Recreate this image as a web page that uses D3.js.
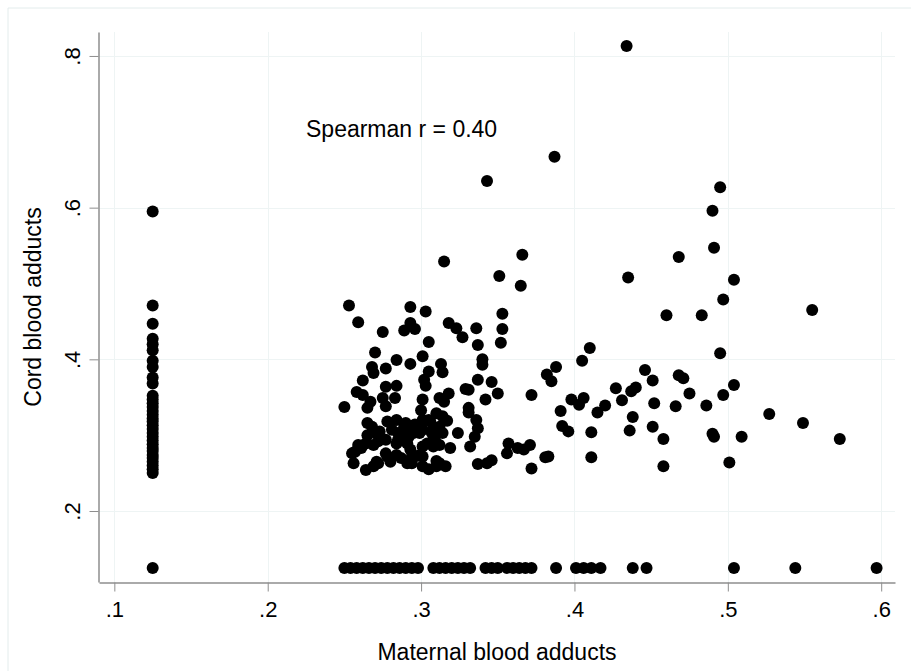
<!DOCTYPE html>
<html><head><meta charset="utf-8">
<script src="https://cdn.jsdelivr.net/npm/d3@7"></script>
<style>body{margin:0;background:#fff} svg{display:block;font-family:"Liberation Sans",Arial,sans-serif}</style>
</head><body><svg id="c" width="911" height="671"></svg>
<script>
const xTicks = [0.1, 0.2, 0.3, 0.4, 0.5, 0.6];
const xTickLabels = [".1", ".2", ".3", ".4", ".5", ".6"];
const yTicks = [0.2, 0.4, 0.6, 0.8];
const yTickLabels = [".2", ".4", ".6", ".8"];
const xTitle = "Maternal blood adducts";
const yTitle = "Cord blood adducts";
const annotation = "Spearman r = 0.40";

// value assigned to samples below detection limit
const lodValue = 0.125;
// maternal below LOD: cord values
const leftColumnCord = [0.595, 0.471, 0.447, 0.427, 0.42, 0.412, 0.398, 0.39, 0.376, 0.368, 0.352, 0.347, 0.342, 0.337, 0.332, 0.327, 0.322, 0.318, 0.313, 0.308, 0.303, 0.298, 0.293, 0.288, 0.283, 0.279, 0.274, 0.27, 0.265, 0.26, 0.255, 0.25, 0.125];
// cord below LOD: maternal values
const bottomRowMaternal = [0.25, 0.254, 0.258, 0.262, 0.266, 0.27, 0.274, 0.278, 0.282, 0.286, 0.29, 0.294, 0.298, 0.308, 0.312, 0.316, 0.32, 0.324, 0.328, 0.332, 0.342, 0.346, 0.35, 0.356, 0.36, 0.364, 0.368, 0.372, 0.388, 0.401, 0.406, 0.411, 0.417, 0.438, 0.447, 0.504, 0.544, 0.597];
// both detected: [maternal, cord]
const detectedPairs = [
[0.434,0.813],[0.387,0.667],[0.343,0.635],[0.495,0.627],[0.490,0.596],[0.366,0.538],[0.468,0.535],[0.491,0.547],[0.315,0.529],[0.351,0.510],[0.435,0.508],[0.504,0.505],[0.365,0.497],[0.497,0.479],[0.253,0.471],[0.293,0.469],[0.303,0.463],[0.353,0.460],[0.460,0.458],[0.483,0.458],[0.259,0.449],[0.555,0.465],[0.410,0.415],[0.495,0.408],
[0.446,0.386],[0.451,0.372],[0.468,0.379],[0.471,0.375],[0.427,0.362],[0.437,0.358],[0.440,0.363],[0.504,0.366],[0.475,0.355],[0.497,0.353],[0.431,0.346],[0.420,0.339],[0.415,0.330],[0.452,0.342],[0.466,0.338],[0.486,0.339],[0.527,0.328],[0.438,0.324],[0.549,0.316],[0.411,0.304],[0.436,0.306],[0.451,0.311],[0.458,0.295],[0.490,0.302],[0.491,0.298],[0.509,0.298],[0.573,0.295],[0.411,0.271],[0.458,0.259],[0.501,0.264],
[0.305,0.423],[0.327,0.429],[0.337,0.419],[0.352,0.422],[0.405,0.398],[0.340,0.400],[0.340,0.393],[0.313,0.394],[0.314,0.383],[0.305,0.384],[0.388,0.390],[0.382,0.380],[0.385,0.371],[0.337,0.373],[0.346,0.370],[0.302,0.373],[0.303,0.365],[0.329,0.361],[0.331,0.360],[0.350,0.355],[0.342,0.347],[0.372,0.353],[0.318,0.355],[0.312,0.349],[0.315,0.344],[0.301,0.347],[0.398,0.347],[0.403,0.340],[0.406,0.349],[0.391,0.332],[0.331,0.336],[0.331,0.330],[0.300,0.333],[0.310,0.329],[0.317,0.319],[0.301,0.320],[0.305,0.320],[0.336,0.320],[0.392,0.312],[0.396,0.305],[0.337,0.309],[0.324,0.303],[0.335,0.298],[0.299,0.303],[0.309,0.294],[0.308,0.285],[0.332,0.285],[0.319,0.283],[0.357,0.289],[0.356,0.276],[0.363,0.283],[0.367,0.281],[0.371,0.287],[0.381,0.271],[0.383,0.272],[0.372,0.256],[0.337,0.262],[0.343,0.263],[0.346,0.267],[0.305,0.255],[0.316,0.259],[0.312,0.263],[0.298,0.273],
[0.323,0.441],[0.336,0.441],[0.353,0.440],[0.318,0.448],
[0.275,0.436],[0.289,0.438],[0.293,0.448],[0.296,0.440],[0.301,0.404],[0.270,0.409],[0.284,0.399],[0.293,0.394],[0.268,0.390],[0.269,0.382],[0.277,0.388],[0.262,0.372],[0.277,0.364],[0.284,0.365],[0.258,0.357],[0.262,0.353],[0.275,0.349],[0.283,0.349],[0.267,0.344],[0.277,0.338],[0.250,0.337],[0.265,0.336],[0.265,0.316],[0.268,0.311],[0.278,0.318],[0.284,0.320],[0.290,0.316],[0.296,0.314],[0.271,0.303],[0.281,0.307],[0.285,0.303],[0.290,0.305],[0.292,0.298],[0.295,0.303],[0.301,0.307],[0.259,0.287],[0.255,0.276],[0.261,0.283],[0.272,0.292],[0.277,0.294],[0.284,0.289],[0.291,0.289],[0.293,0.281],[0.256,0.263],[0.264,0.254],[0.269,0.259],[0.272,0.263],[0.278,0.272],[0.280,0.265],[0.277,0.276],[0.284,0.274],[0.287,0.270],[0.291,0.263],[0.294,0.272],[0.294,0.263],[0.301,0.285],[0.301,0.272],[0.301,0.259],
[0.314,0.325],[0.289,0.311],[0.293,0.309],[0.306,0.318],[0.308,0.309],[0.312,0.311],[0.314,0.303],[0.265,0.300],[0.273,0.305],[0.289,0.298],[0.307,0.303],[0.257,0.278],[0.264,0.289],[0.269,0.287],[0.285,0.294],[0.304,0.289],[0.312,0.287],[0.271,0.265],[0.310,0.259],[0.310,0.266]
];

const points = []
  .concat(leftColumnCord.map(c => [lodValue, c]))
  .concat(bottomRowMaternal.map(m => [m, lodValue]))
  .concat(detectedPairs);

const svg = d3.select("#c");
const x = d3.scaleLinear().domain([0.09, 0.609]).range([99, 895]);
const y = d3.scaleLinear().domain([0.1064, 0.8316]).range([582, 32]);

// outer frame (top/left visible)
svg.append("path").attr("d", "M8,671V8H911").attr("fill", "none").attr("stroke", "#e3ecec").attr("stroke-width", 1);

// gridlines
const grid = svg.append("g").attr("stroke", "#eef4f4").attr("stroke-width", 1);
grid.selectAll("line.v").data(xTicks).join("line")
  .attr("x1", d => Math.round(x(d)) + 0.5).attr("x2", d => Math.round(x(d)) + 0.5)
  .attr("y1", y.range()[1]).attr("y2", y.range()[0]);
grid.selectAll("line.h").data(yTicks).join("line")
  .attr("y1", d => Math.round(y(d)) + 0.5).attr("y2", d => Math.round(y(d)) + 0.5)
  .attr("x1", x.range()[0]).attr("x2", x.range()[1]);

// x axis
const xAxis = svg.append("g").attr("transform", "translate(0,582.5)")
  .call(d3.axisBottom(x).tickValues(xTicks).tickFormat((d, i) => xTickLabels[i]).tickSize(9).tickSizeOuter(0));
xAxis.select(".domain").attr("stroke", "#8e8e8e").attr("stroke-width", 1.5);
xAxis.selectAll(".tick line").attr("stroke", "#8e8e8e").attr("stroke-width", 1);
xAxis.selectAll(".tick text").attr("y", 34.5).attr("dy", 0).attr("fill", "#000")
  .style("font-size", "22px").style("font-family", "'Liberation Sans', Arial, sans-serif");

// y axis
const yAxis = svg.append("g").attr("transform", "translate(98.5,0)")
  .call(d3.axisLeft(y).tickValues(yTicks).tickFormat((d, i) => yTickLabels[i]).tickSize(9).tickSizeOuter(0));
yAxis.select(".domain").attr("stroke", "#8e8e8e").attr("stroke-width", 1.5);
yAxis.selectAll(".tick line").attr("stroke", "#8e8e8e").attr("stroke-width", 1);
yAxis.selectAll(".tick text").attr("x", null).attr("dy", 0).attr("y", null)
  .attr("transform", "translate(-18.5,0) rotate(-90)").attr("text-anchor", "middle").attr("fill", "#000")
  .style("font-size", "22px").style("font-family", "'Liberation Sans', Arial, sans-serif");

// titles
svg.append("text").attr("x", (x.range()[0] + x.range()[1]) / 2).attr("y", 660)
  .attr("text-anchor", "middle").style("font-size", "23px").text(xTitle);
svg.append("text").attr("transform", `translate(41,${(y.range()[0] + y.range()[1]) / 2}) rotate(-90)`)
  .attr("text-anchor", "middle").style("font-size", "23px").text(yTitle);

// annotation
svg.append("text").attr("x", 306).attr("y", 137).style("font-size", "23px").text(annotation);

// points
svg.append("g").selectAll("circle").data(points).join("circle")
  .attr("cx", d => x(d[0])).attr("cy", d => y(d[1])).attr("r", 6).attr("fill", "#000");
</script></body></html>
